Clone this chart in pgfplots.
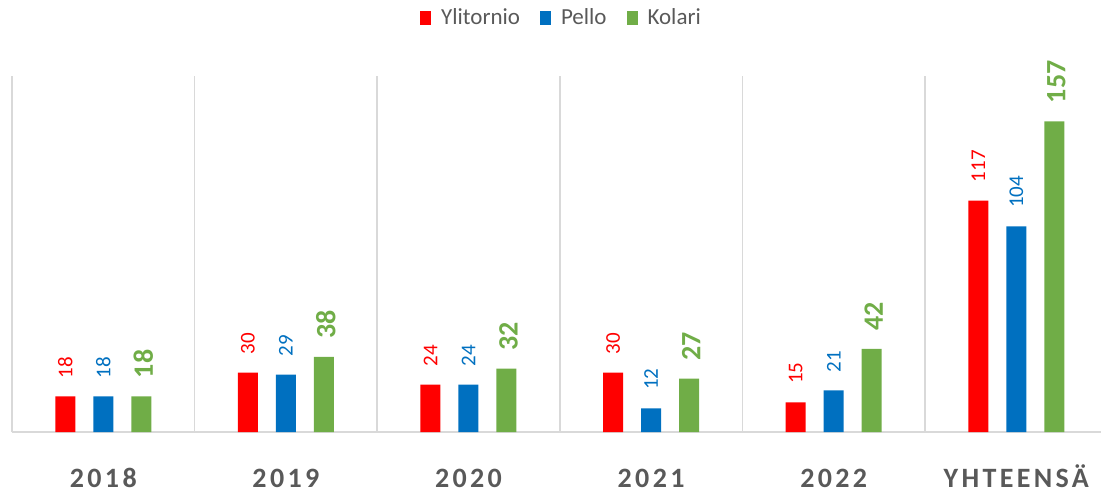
\documentclass[border=0pt]{standalone}
\usepackage{fontspec}
\setmainfont{Carlito}
\newfontfamily\tickfont[LetterSpace=12]{Carlito}
\usepackage{pgfplots}
\pgfplotsset{compat=1.18}
\definecolor{cred}{HTML}{FF0000}
\definecolor{cblue}{HTML}{0070C0}
\definecolor{cgreen}{HTML}{70AD47}
\definecolor{sepgray}{HTML}{D9D9D9}
\definecolor{txtgray}{HTML}{595959}
\begin{document}
\begin{tikzpicture}
\path[use as bounding box] (-6pt,-31.5pt) rectangle (544.5pt,216pt);
\begin{axis}[
  scale only axis,
  width=544.5pt, height=178pt,
  xmin=-0.5, xmax=5.464,
  ymin=0, ymax=180,
  ybar, bar width=10pt,
  axis x line*=bottom,
  axis y line=none,
  axis line style={draw=sepgray, line width=0.8pt, -},
  xtick={0,1,2,3,4,5},
  xticklabels={2018,2019,2020,2021,2022,YHTEENSÄ},
  major tick length=0pt,
  minor xtick={-0.5,0.5,1.5,2.5,3.5,4.5},
  minor tick length=0pt,
  xminorgrids,
  minor grid style={draw=sepgray, line width=0.8pt},
  ytick=\empty,
  xticklabel style={font=\tickfont\bfseries\fontsize{14}{16}\selectfont, text=txtgray, anchor=base, yshift=-27.5pt},
  /pgf/number format/assume math mode=true,
  nodes near coords,
  every node near coord/.append style={yshift=9pt, rotate=90, anchor=west, inner sep=0pt, font=\fontsize{10.5}{12}\selectfont},
  legend style={at={(axis description cs:0.5055,1)}, anchor=center, yshift=29pt, draw=none, fill=none,
    font=\fontsize{11.5}{13}\selectfont, text=txtgray, legend columns=-1,
    /tikz/every odd column/.append style={column sep=3pt},
    /tikz/every even column/.append style={column sep=8pt}},
  legend image code/.code={\fill[#1] (0pt,-3.5pt) rectangle (5.5pt,3.5pt);},
]
\addplot[fill=cred, draw=none, bar shift=-19pt, every node near coord/.append style={text=cred}]
  coordinates {(0,18) (1,30) (2,24) (3,30) (4,15) (5,117)};
\addplot[fill=cblue, draw=none, bar shift=0pt, every node near coord/.append style={text=cblue}]
  coordinates {(0,18) (1,29) (2,24) (3,12) (4,21) (5,104)};
\addplot[fill=cgreen, draw=none, bar shift=19pt, every node near coord/.append style={text=cgreen, yshift=-1pt, font=\bfseries\fontsize{14}{16}\selectfont}]
  coordinates {(0,18) (1,38) (2,32) (3,27) (4,42) (5,157)};
\legend{Ylitornio, Pello, Kolari}
\end{axis}
\end{tikzpicture}
\end{document}
